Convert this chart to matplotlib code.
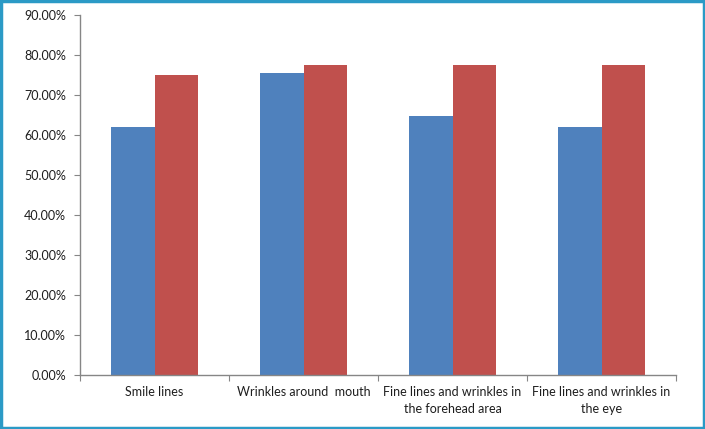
import matplotlib
matplotlib.use("Agg")
import matplotlib.pyplot as plt
import numpy as np
from matplotlib.patches import Rectangle
from matplotlib.ticker import FuncFormatter

# ------------------------------
# Data
# ------------------------------
categories = ['Smile lines', 'Wrinkles around  mouth',
              'Fine lines and wrinkles in\nthe forehead area',
              'Fine lines and wrinkles in\nthe eye']
series_blue = [62.0, 75.5, 64.8, 62.0]
series_red = [75.0, 77.5, 77.5, 77.5]
y_ticks = [0, 10, 20, 30, 40, 50, 60, 70, 80, 90]

plt.rcParams['font.family'] = ['Lato', 'DejaVu Sans']

fig = plt.figure(figsize=(7.05, 4.29), dpi=100)
ax = fig.add_axes([80 / 705, 54 / 429, 596 / 705, 360 / 429])

x = np.arange(len(categories))
w = 0.29
ax.bar(x - w / 2, series_blue, width=w, color='#4F81BD')
ax.bar(x + w / 2, series_red, width=w, color='#C0504D')

ax.set_xlim(-0.5, len(categories) - 0.5)
ax.set_ylim(0, 90)
ax.set_yticks(y_ticks)
ax.yaxis.set_major_formatter(FuncFormatter(lambda v, p: f'{v:.2f}%'))

# category labels centered, ticks at boundaries
ax.set_xticks(np.arange(-0.5, len(categories)), labels=[''] * (len(categories) + 1))
ax.set_xticks(x, labels=categories, minor=True)
for lbl in ax.get_xticklabels(minor=True):
    lbl.set_linespacing(1.45)
ax.tick_params(axis='x', which='minor', length=0, pad=8, labelsize=9, colors='#1e1e1e')
ax.tick_params(axis='x', which='major', length=4, color='#868686', direction='out')
ax.tick_params(axis='y', length=4, color='#868686', labelsize=9, labelcolor='#1e1e1e', pad=6)

for s in ['top', 'right']:
    ax.spines[s].set_visible(False)
for s in ['left', 'bottom']:
    ax.spines[s].set_color('#868686')
    ax.spines[s].set_linewidth(1.0)

# outer teal frame
fig.patches.append(Rectangle((0.0015, 0.003), 0.997, 0.994, transform=fig.transFigure,
                             fill=False, edgecolor='#2B9AC6', linewidth=2.5))

fig.savefig('out.png', dpi=100)
